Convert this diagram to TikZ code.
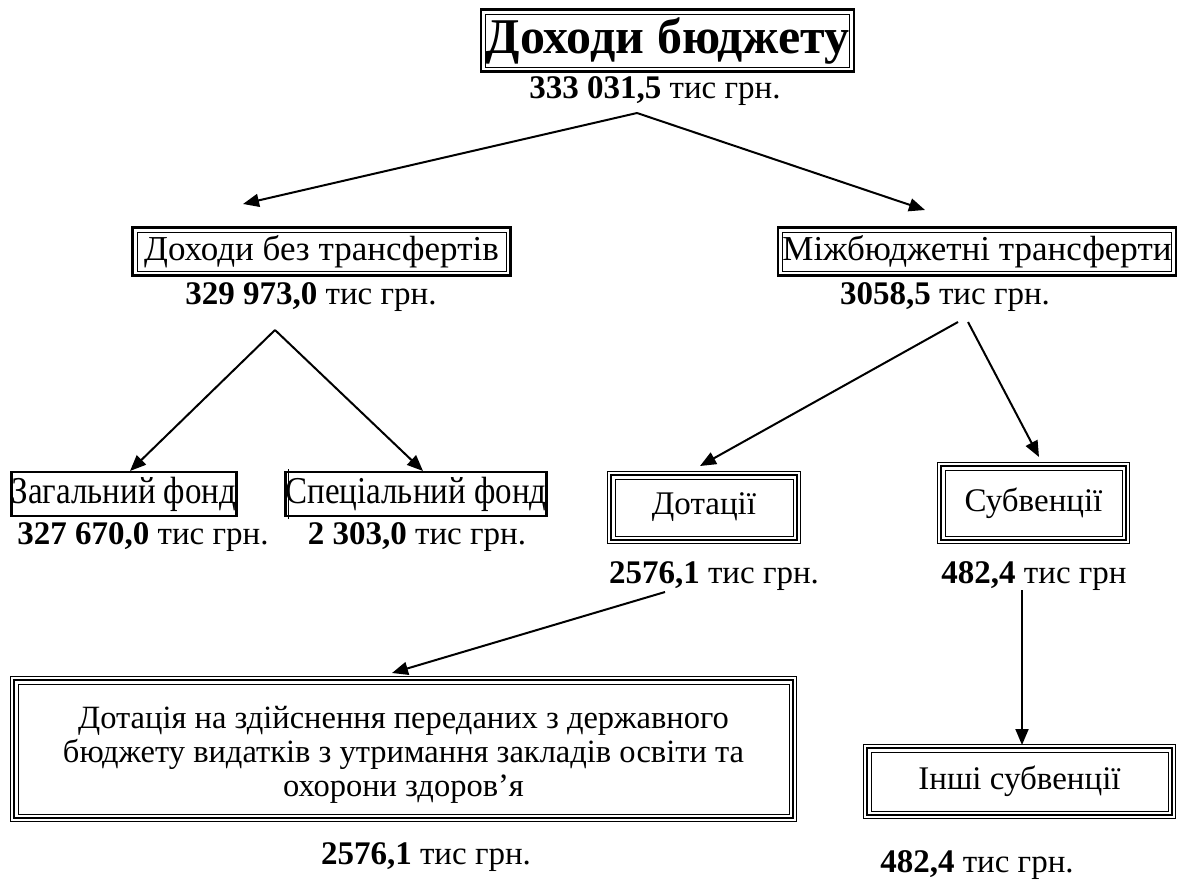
\documentclass[tikz,border=0pt]{standalone}
\usepackage{fontspec}
\usepackage{graphicx}
\setmainfont{Liberation Serif}
\usetikzlibrary{arrows.meta}
\newcommand{\TriFrame}[1]{%
  \draw[line width=2.2pt] ([shift={(-3.5pt,-3.5pt)}]#1.south west) rectangle ([shift={(3.5pt,3.5pt)}]#1.north east);
  \draw[line width=0.9pt] ([shift={(-7pt,-7pt)}]#1.south west) rectangle ([shift={(7pt,7pt)}]#1.north east);}
\newcommand{\DblFrame}[1]{%
  \draw[line width=2.4pt] ([shift={(-4pt,-4pt)}]#1.south west) rectangle ([shift={(4pt,4pt)}]#1.north east);}
\newcommand{\TallText}[1]{\scalebox{1}[1.15]{#1}}
\tikzset{
  txt/.style={font=\fontsize{33}{34}\selectfont, inner sep=0pt, align=center},
  thinbox/.style={txt, draw, line width=1pt},
  thickbox/.style={txt, draw, line width=2.8pt},
  lvltwo/.style={thinbox, font=\fontsize{35}{36}\selectfont},
  arr/.style={-{Triangle[length=16pt,width=13pt]}, line width=2pt},
}
\begin{document}
\begin{tikzpicture}[x=1pt,y=-1pt]
\useasboundingbox[fill=white] (0,0) rectangle (1177,884);

% level 1
\node[thinbox, font=\fontsize{50}{52}\selectfont\bfseries, minimum width=361pt, minimum height=53pt] (top) at (667.5,40.5) {Доходи бюджету};
\DblFrame{top}
\node[txt] (topn) at (655,91) {\textbf{333 031,5} тис грн.};

% level 2
\node[lvltwo, minimum width=369pt, minimum height=39pt] (dbt) at (321.5,251.5) {Доходи без трансфертів};
\DblFrame{dbt}
\node[txt] (dbtn) at (311,297) {\textbf{329 973,0} тис грн.};

\node[lvltwo, minimum width=382pt, minimum height=39pt] (mbt) at (977,251.5) {Міжбюджетні трансферти};
\DblFrame{mbt}
\node[txt] (mbtn) at (945,297) {\textbf{3058,5} тис грн.};

% level 3
\node[thickbox, minimum width=220pt, minimum height=44pt] (zf) at (124,494) {\TallText{Загальний фонд}};
\node[txt] (zfn) at (143,537) {\textbf{327 670,0} тис грн.};

\node[thickbox, minimum width=260pt, minimum height=44pt] (sf) at (416,494) {\TallText{Спеціальний фонд}};
\draw[line width=0.9pt] ([shift={(4pt,-1.4pt)}]sf.south west) -- ([shift={(4pt,1.4pt)}]sf.north west);
\node[txt] (sfn) at (417,537) {\textbf{2 303,0} тис грн.};

\node[thinbox, minimum width=178pt, minimum height=57pt] (dot) at (704,507.5) {Дотації};
\TriFrame{dot}
\node[txt] (dotn) at (714,576) {\textbf{2576,1} тис грн.};

\node[thinbox, minimum width=177pt, minimum height=66pt] (sub) at (1033.5,503) {Субвенції};
\TriFrame{sub}
\node[txt] (subn) at (1034,576) {\textbf{482,4} тис грн};

% level 4
\node[thinbox, font=\fontsize{32.5}{34}\selectfont, minimum width=771pt, minimum height=130pt] (big) at (403.5,749)
  {\rule{0pt}{33pt}Дотація на здійснення переданих з державного\\бюджету видатків з утримання закладів освіти та\\охорони здоров’я};
\TriFrame{big}
\node[txt] (bign) at (426,857) {\textbf{2576,1} тис грн.};

\node[thinbox, minimum width=297pt, minimum height=59pt] (ins) at (1019.5,781.5) {Інші субвенції};
\TriFrame{ins}
\node[txt] (insn) at (977,865) {\textbf{482,4} тис грн.};

% connector end points
\coordinate (s0) at (637,113);
\coordinate (t1) at (243,204);
\coordinate (t2) at (925,210);
\coordinate (s1) at (275,330);
\coordinate (t3) at (130,471);
\coordinate (t4) at (423,471);
\coordinate (s2) at (958,322);
\coordinate (t5) at (700,466);
\coordinate (s3) at (968,322);
\coordinate (t6) at (1039,457);
\coordinate (s4) at (665,592);
\coordinate (t7) at (392,673);
\coordinate (s5) at (1022,590);
\coordinate (t8) at (1022,745);

\draw[arr] (s0) -- (t1);
\draw[arr] (s0) -- (t2);
\draw[arr] (s1) -- (t3);
\draw[arr] (s1) -- (t4);
\draw[arr] (s2) -- (t5);
\draw[arr] (s3) -- (t6);
\draw[arr] (s4) -- (t7);
\draw[arr] (s5) -- (t8);
\end{tikzpicture}
\end{document}
